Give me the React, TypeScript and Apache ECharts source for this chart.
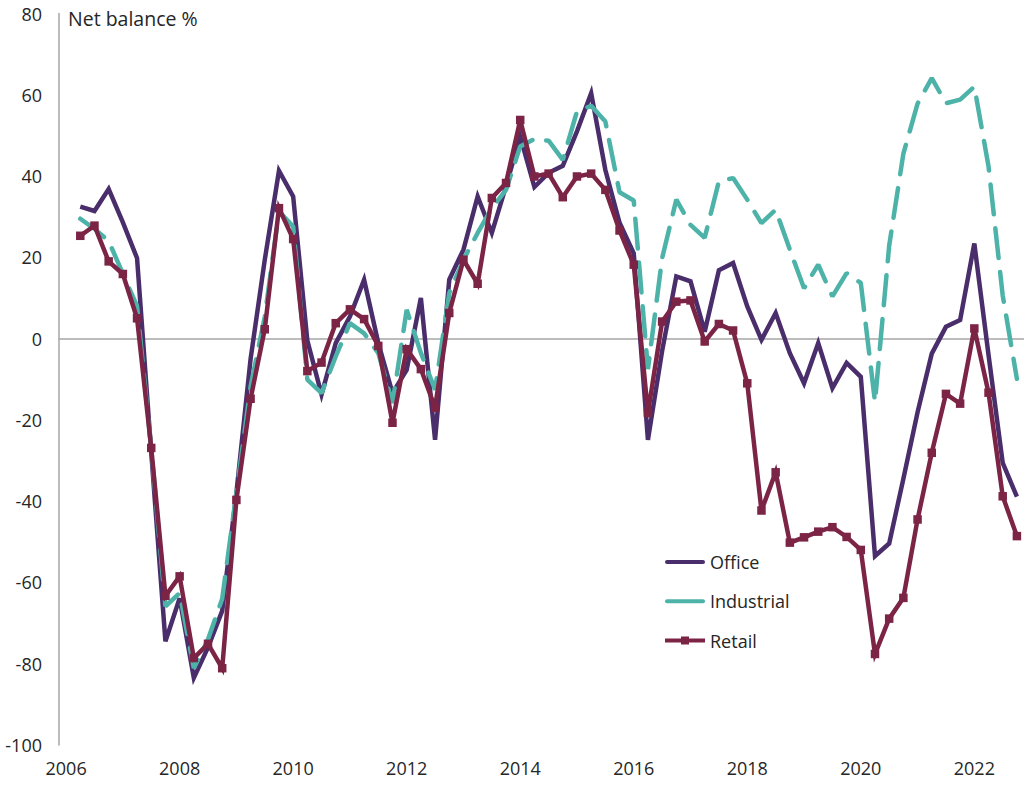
import React, { useEffect, useRef } from "react";
import * as echarts from "echarts";

// Quarterly categories 2006 Q1 .. 2022 Q4 (data start at 2006 Q2)
const years = [2006, 2007, 2008, 2009, 2010, 2011, 2012, 2013, 2014, 2015, 2016, 2017, 2018, 2019, 2020, 2021, 2022];
const quarterNames = ["Q1", "Q2", "Q3", "Q4"];
const categories: string[] = [];
years.forEach((y) => quarterNames.forEach((q) => categories.push(`${y} ${q}`)));

const yTicks = { min: -100, max: 80, step: 20 };
const axisTitle = "Net balance %";

// Net balance %, 2006 Q2 .. 2022 Q4
const office = [
  32.5, 31.4, 36.8, 28.6, 19.8, -28, -74.5, -63.9, -83.5, -76, -67, -38, -5, 19.4, 41.3, 35.0,
  -0.5, -13.8, -1.1, 5.4, 14.5, -1.1, -13.4, -7.7, 10.0, -24.9, 14.5, 21.9, 35.0, 26.0, 37.5, 49.7,
  37.3, 40.8, 42.5, 51.0, 60.4, 41.5, 28.5, 21.0, -24.9, -3.0, 15.3, 14.1, 1.7, 16.8, 18.6, 7.9,
  -0.3, 6.3, -3.6, -11.0, -1.1, -12.2, -6.0, -9.4, -53.5, -50.4, -34.5, -18.1, -3.7, 2.9, 4.6, 23.4,
  -4.0, -30.6, -38.9,
];
const industrial = [
  29.5, 27.0, 24.0, 16.0, 8.0, -27.0, -65.9, -62.6, -81.1, -74.0, -64.0, -38.0, -11.8, 5.4, 31.3, 27.6,
  -10.1, -13.4, -4.4, 3.8, 1.3, -3.6, -15.9, 7.1, -3.5, -12.6, 11.2, 19.4, 26.0, 32.1, 36.6, 47.3,
  49.1, 48.7, 44.0, 55.9, 57.3, 53.4, 36.0, 34.0, -7.5, 19.8, 34.2, 28.0, 24.8, 38.7, 39.5, 34.2,
  28.4, 31.7, 21.9, 12.4, 18.2, 10.4, 16.1, 13.7, -15.6, 22.9, 45.5, 57.8, 64.1, 57.9, 58.8, 62.0,
  42.4, 10.6, -9.9,
];
const retail = [
  25.3, 27.8, 19.0, 15.9, 5.0, -26.9, -63.3, -58.5, -78.6, -75.1, -81.1, -39.7, -14.8, 2.3, 32.1, 24.5,
  -8.0, -5.9, 3.8, 7.2, 4.8, -1.8, -20.7, -2.6, -7.5, -17.0, 6.3, 19.4, 13.5, 34.6, 38.3, 53.8,
  39.9, 40.6, 34.8, 39.9, 40.6, 36.6, 26.6, 18.2, -18.3, 4.2, 9.1, 9.4, -0.7, 3.6, 2.0, -11.0,
  -42.3, -32.9, -50.2, -48.9, -47.5, -46.4, -48.8, -52.0, -77.6, -68.9, -63.8, -44.5, -28.1, -13.6, -16.0, 2.5,
  -13.3, -38.8, -48.6,
];

const seriesNames = ["Office", "Industrial", "Retail"];
const colors = { Office: "#4a2d6b", Industrial: "#4db3a8", Retail: "#7c2445" };
const FONT = "Open Sans";
const TEXT = "#262626";
const AXIS = "#a6a6a6";

const LINE_ICON = "path://M2 0H38A2 2 0 0 1 38 4H2A2 2 0 0 1 2 0Z";
const LINE_SQUARE_ICON = "path://M0 2H16V0H24V2H40V6H24V8H16V6H0Z";

export default function App() {
  const ref = useRef<HTMLDivElement>(null);
  useEffect(() => {
    if (!ref.current) return;
    const chart = echarts.init(ref.current, undefined, { renderer: "svg" });
    const pad = (arr: number[]) => [null, ...arr];
    chart.setOption({
      animation: false,
      backgroundColor: "#ffffff",
      textStyle: { fontFamily: FONT },
      grid: { left: 59, right: 0, top: 13.5, bottom: 40, containLabel: false },
      xAxis: [
        {
          type: "category",
          data: categories,
          boundaryGap: true,
          position: "bottom",
          axisLine: { show: false, onZero: false },
          axisTick: { show: false },
          splitLine: { show: false },
          axisLabel: {
            interval: (idx: number) => idx % 8 === 0,
            formatter: (v: string) => v.slice(0, 4),
            margin: 14,
            fontSize: 18,
            color: TEXT,
            fontFamily: FONT,
          },
        },
        {
          type: "category",
          data: categories,
          boundaryGap: true,
          position: "bottom",
          axisLine: { show: true, onZero: true, lineStyle: { color: AXIS, width: 1.5 } },
          axisTick: { show: false },
          axisLabel: { show: false },
          splitLine: { show: false },
        },
      ],
      yAxis: {
        type: "value",
        min: yTicks.min,
        max: yTicks.max,
        interval: yTicks.step,
        axisLine: { show: true, lineStyle: { color: AXIS, width: 1.5 } },
        axisTick: { show: false },
        splitLine: { show: false },
        axisLabel: { margin: 17, fontSize: 18, color: TEXT, fontFamily: FONT },
      },
      legend: {
        orient: "vertical",
        left: 665,
        top: 553,
        padding: 0,
        itemWidth: 40,
        itemHeight: 16,
        itemGap: 21.3,
        symbolKeepAspect: true,
        textStyle: { fontSize: 18, color: TEXT, fontFamily: FONT },
        data: [
          { name: "Office", icon: LINE_ICON, itemStyle: { color: colors.Office } },
          { name: "Industrial", icon: LINE_ICON, itemStyle: { color: colors.Industrial } },
          { name: "Retail", icon: LINE_SQUARE_ICON, itemStyle: { color: colors.Retail } },
        ],
      },
      graphic: [
        {
          type: "text",
          left: 68,
          top: 8,
          style: { text: axisTitle, font: `19.5px '${FONT}'`, fill: TEXT },
        },
      ],
      series: [
        {
          name: seriesNames[0],
          type: "line",
          data: pad(office),
          showSymbol: false,
          symbol: "none",
          color: colors.Office,
          lineStyle: { width: 4.5, color: colors.Office, join: "miter" },
          z: 2,
        },
        {
          name: seriesNames[1],
          type: "line",
          data: pad(industrial),
          showSymbol: false,
          symbol: "none",
          color: colors.Industrial,
          lineStyle: { width: 4.5, color: colors.Industrial, type: [30, 14], cap: "round" },
          z: 3,
        },
        {
          name: seriesNames[2],
          type: "line",
          data: pad(retail),
          symbol: "rect",
          symbolSize: 8.5,
          showSymbol: true,
          color: colors.Retail,
          itemStyle: { color: colors.Retail },
          lineStyle: { width: 4.5, color: colors.Retail, join: "miter" },
          z: 4,
        },
      ],
    });
    return () => chart.dispose();
  }, []);
  return <div ref={ref} style={{ width: 1024, height: 785, position: "absolute", left: 0, top: 0 }} />;
}
